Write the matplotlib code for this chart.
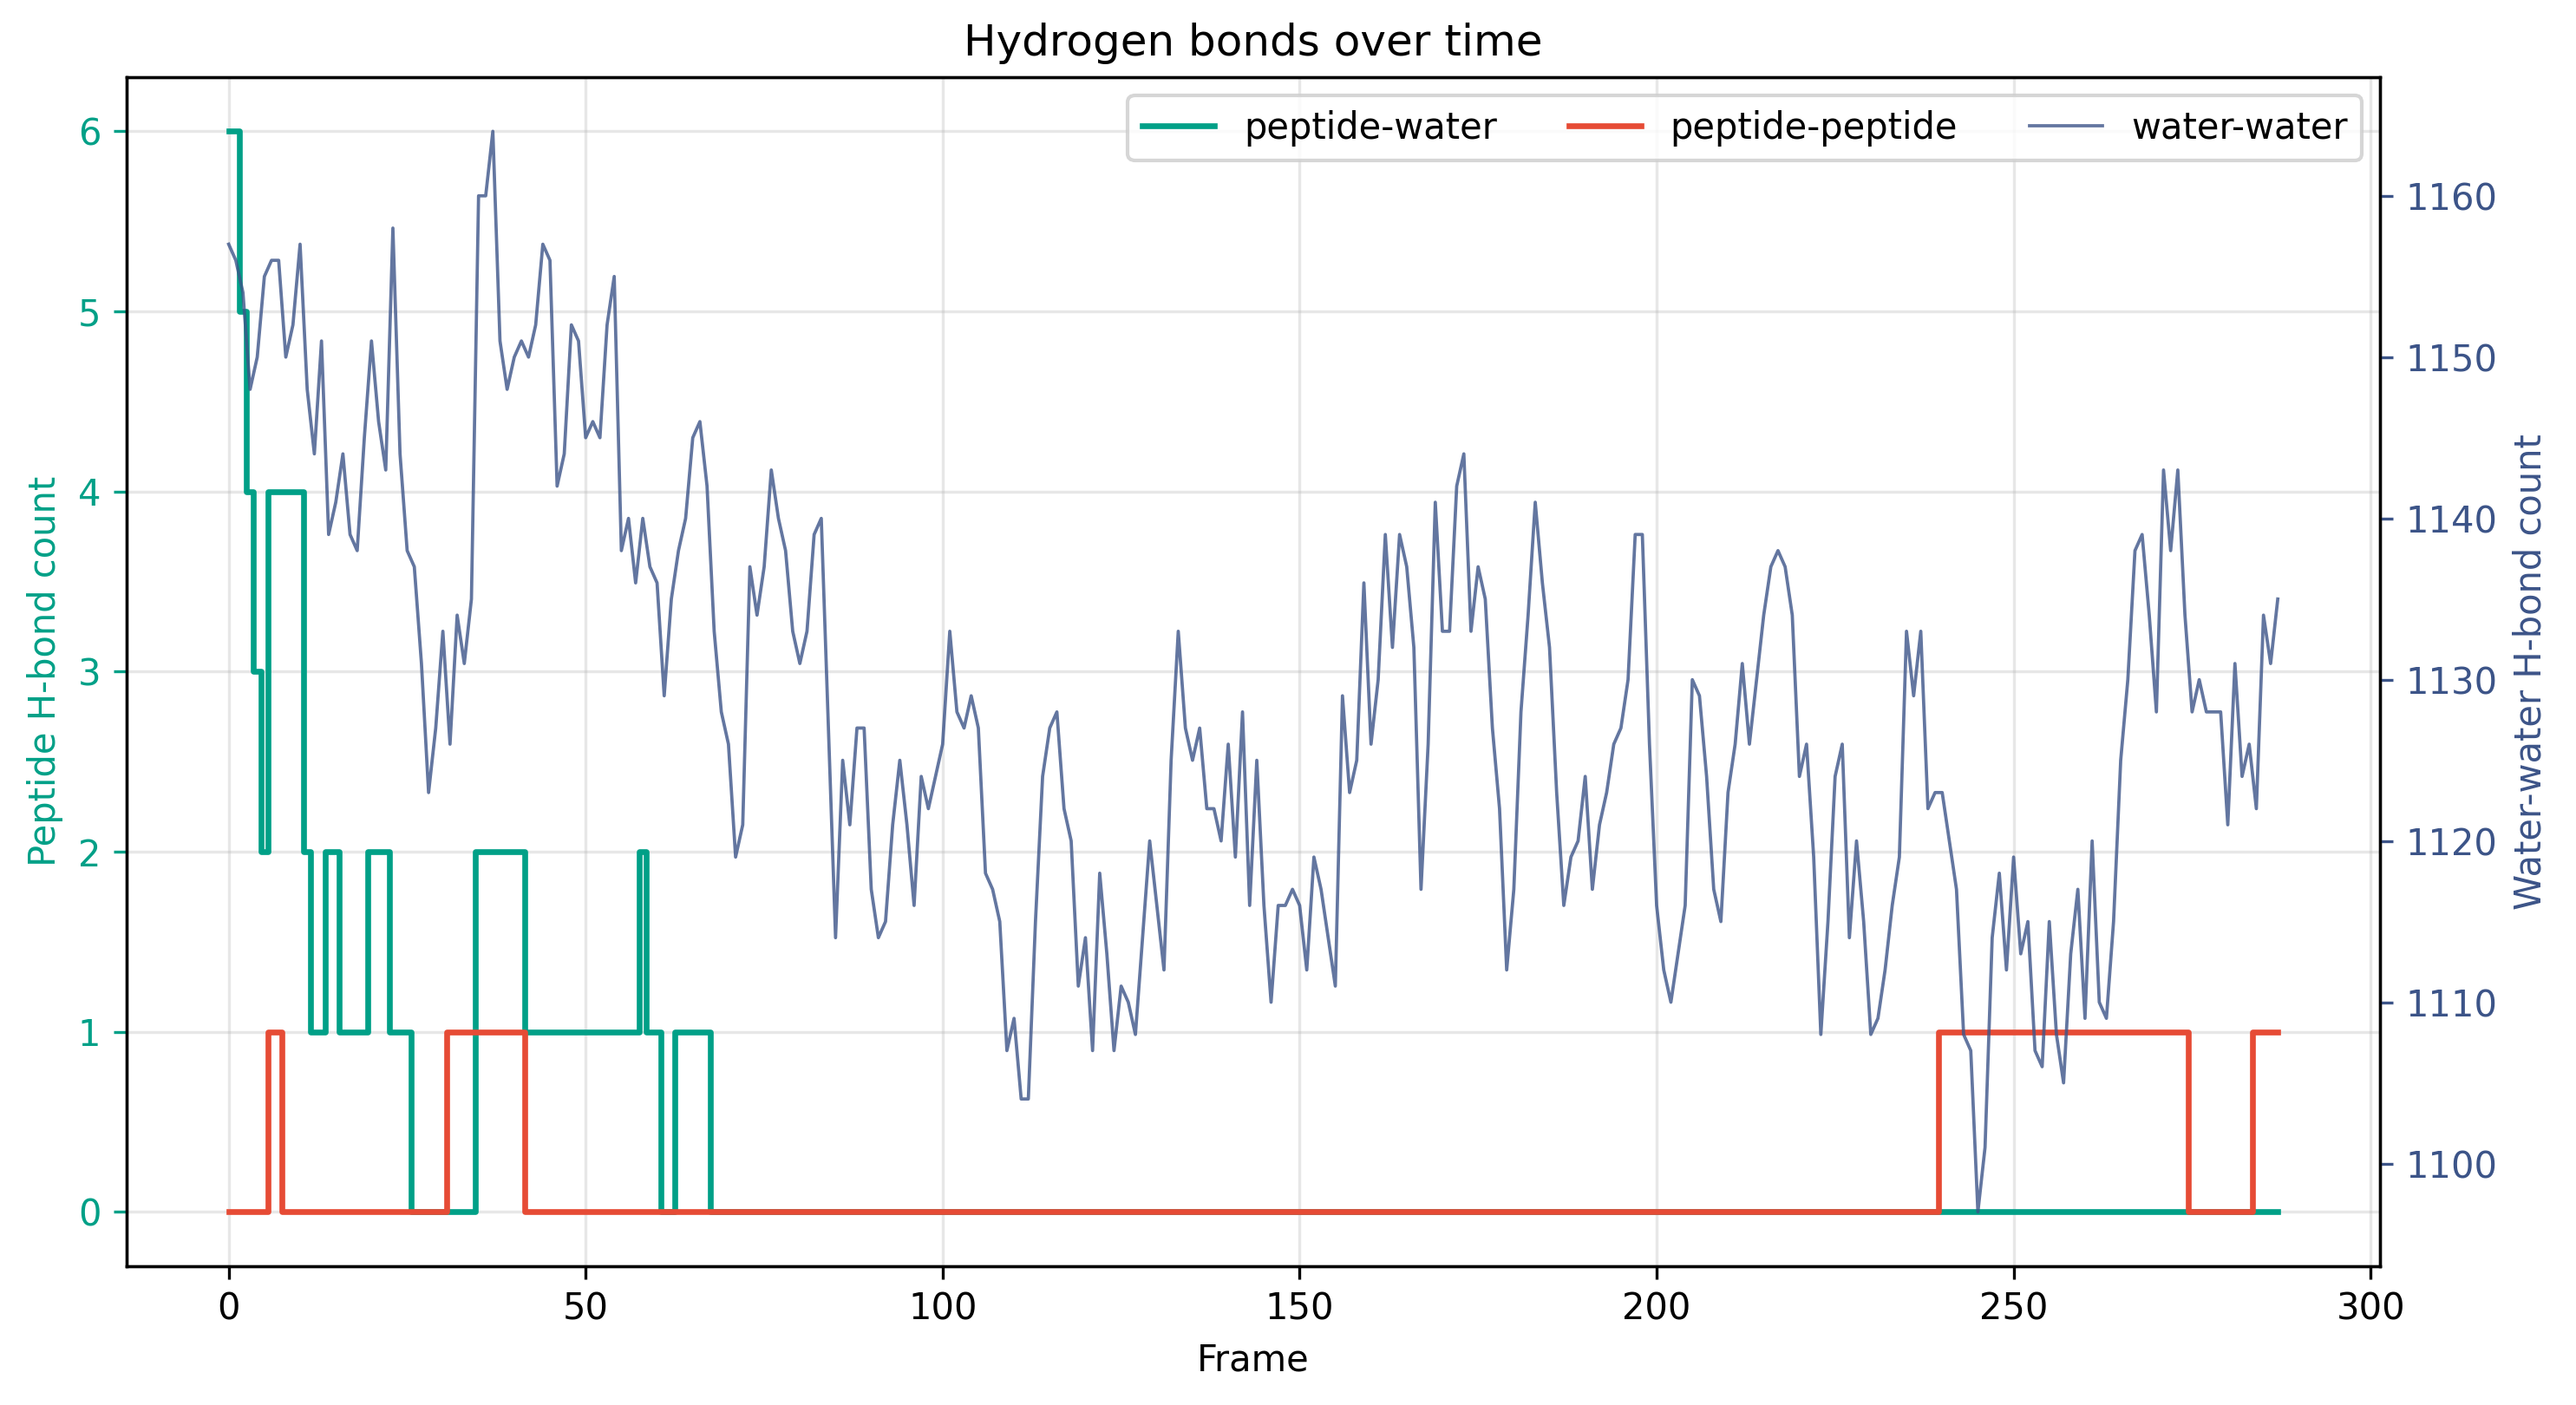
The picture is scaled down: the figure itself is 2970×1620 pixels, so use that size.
import numpy as np
import matplotlib
import matplotlib.pyplot as plt

matplotlib.use("Agg")

# frames 0..287
frames = np.arange(288)

# peptide-water H-bonds as (value, number of frames) runs
peptide_water_runs = [
    (6, 2), (5, 1), (4, 1), (3, 1), (2, 1), (4, 5), (2, 1), (1, 2), (2, 2),
    (1, 4), (2, 3), (1, 3), (0, 9), (2, 7), (1, 16), (2, 1), (1, 2), (0, 2),
    (1, 5), (0, 220),
]

# peptide-peptide H-bonds as (value, number of frames) runs
peptide_peptide_runs = [
    (0, 6), (1, 2), (0, 23), (1, 11), (0, 198), (1, 35), (0, 9), (1, 4),
]

water_water = [
    1157, 1156, 1154, 1148, 1150, 1155, 1156, 1156, 1150, 1152,
    1157, 1148, 1144, 1151, 1139, 1141, 1144, 1139, 1138, 1145,
    1151, 1146, 1143, 1158, 1144, 1138, 1137, 1131, 1123, 1127,
    1133, 1126, 1134, 1131, 1135, 1160, 1160, 1164, 1151, 1148,
    1150, 1151, 1150, 1152, 1157, 1156, 1142, 1144, 1152, 1151,
    1145, 1146, 1145, 1152, 1155, 1138, 1140, 1136, 1140, 1137,
    1136, 1129, 1135, 1138, 1140, 1145, 1146, 1142, 1133, 1128,
    1126, 1119, 1121, 1137, 1134, 1137, 1143, 1140, 1138, 1133,
    1131, 1133, 1139, 1140, 1127, 1114, 1125, 1121, 1127, 1127,
    1117, 1114, 1115, 1121, 1125, 1121, 1116, 1124, 1122, 1124,
    1126, 1133, 1128, 1127, 1129, 1127, 1118, 1117, 1115, 1107,
    1109, 1104, 1104, 1115, 1124, 1127, 1128, 1122, 1120, 1111,
    1114, 1107, 1118, 1113, 1107, 1111, 1110, 1108, 1114, 1120,
    1116, 1112, 1125, 1133, 1127, 1125, 1127, 1122, 1122, 1120,
    1126, 1119, 1128, 1116, 1125, 1116, 1110, 1116, 1116, 1117,
    1116, 1112, 1119, 1117, 1114, 1111, 1129, 1123, 1125, 1136,
    1126, 1130, 1139, 1132, 1139, 1137, 1132, 1117, 1126, 1141,
    1133, 1133, 1142, 1144, 1133, 1137, 1135, 1127, 1122, 1112,
    1117, 1128, 1134, 1141, 1136, 1132, 1123, 1116, 1119, 1120,
    1124, 1117, 1121, 1123, 1126, 1127, 1130, 1139, 1139, 1126,
    1116, 1112, 1110, 1113, 1116, 1130, 1129, 1124, 1117, 1115,
    1123, 1126, 1131, 1126, 1130, 1134, 1137, 1138, 1137, 1134,
    1124, 1126, 1119, 1108, 1115, 1124, 1126, 1114, 1120, 1115,
    1108, 1109, 1112, 1116, 1119, 1133, 1129, 1133, 1122, 1123,
    1123, 1120, 1117, 1108, 1107, 1097, 1101, 1114, 1118, 1112,
    1119, 1113, 1115, 1107, 1106, 1115, 1108, 1105, 1113, 1117,
    1109, 1120, 1110, 1109, 1115, 1125, 1130, 1138, 1139, 1134,
    1128, 1143, 1138, 1143, 1134, 1128, 1130, 1128, 1128, 1128,
    1121, 1131, 1124, 1126, 1122, 1134, 1131, 1135,
]


def expand(runs):
    vals, counts = zip(*runs)
    return np.repeat(vals, counts)


peptide_water = expand(peptide_water_runs)
peptide_peptide = expand(peptide_peptide_runs)

c_pw = "#00A087"
c_pp = "#E64B35"
c_ww = "#3C5488"

fig, ax = plt.subplots(figsize=(9.9, 5.4), dpi=300)
fig.subplots_adjust(left=0.049, right=0.924, top=0.945, bottom=0.099)

l1, = ax.step(frames, peptide_water, where="mid", color=c_pw, lw=1.6,
              label="peptide-water")
l2, = ax.step(frames, peptide_peptide, where="mid", color=c_pp, lw=1.6,
              label="peptide-peptide")
ax.set_xlabel("Frame")
ax.set_ylabel("Peptide H-bond count", color=c_pw)
ax.tick_params(axis="y", colors=c_pw)
ax.grid(True, alpha=0.3)

ax2 = ax.twinx()
l3, = ax2.plot(frames, water_water, color=c_ww, lw=0.9, alpha=0.8,
               label="water-water")
ax2.set_ylabel("Water-water H-bond count", color=c_ww)
ax2.tick_params(axis="y", colors=c_ww)

ax2.legend([l1, l2, l3], [l.get_label() for l in (l1, l2, l3)],
           loc="upper right", ncol=3)
ax.set_title("Hydrogen bonds over time")

fig.savefig("out.png", dpi=300)
